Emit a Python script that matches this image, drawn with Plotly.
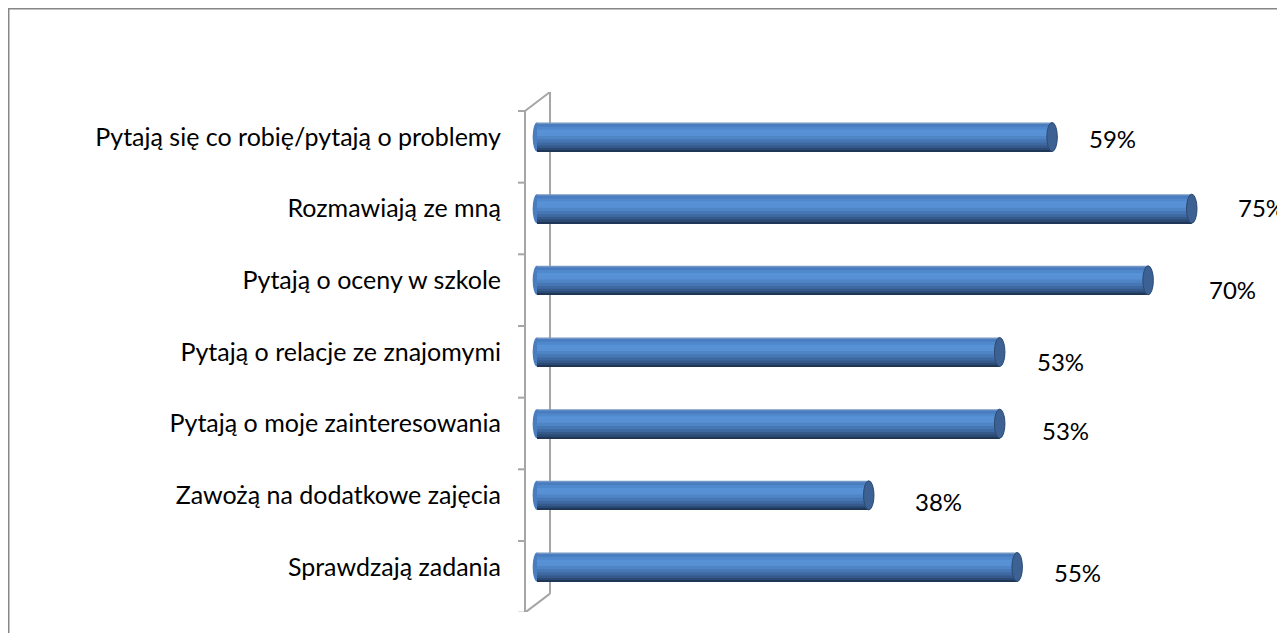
import plotly.graph_objects as go

# data
categories = [
    "Pytają się co robię/pytają o problemy",
    "Rozmawiają ze mną",
    "Pytają o oceny w szkole",
    "Pytają o relacje ze znajomymi",
    "Pytają o moje zainteresowania",
    "Zawożą na dodatkowe zajęcia",
    "Sprawdzają zadania",
]
values = [59, 75, 70, 53, 53, 38, 55]

# label nudges (px) to mimic the 3D layout of the original
label_dx = [60, 70, 84, 61, 66, 70, 60]
label_dy = [1, -1, 9, 9, 7, 6, 6]

# cylinder shading, top -> bottom
band_colors = ["#7497c4", "#4a7dc0", "#5088cc", "#5791d6", "#5890d4",
               "#4f84c5", "#4677b4", "#3d68a0", "#34598a", "#2a4a73", "#1f3656"]
band_w = [0.02, 0.04, 0.04, 0.045, 0.045, 0.045, 0.045, 0.04, 0.035, 0.035, 0.015]
W = sum(band_w)

FONT = "Lato, sans-serif"
AX = "#a6a6a6"

fig = go.Figure()
off = -W / 2
for col, bw in zip(band_colors, band_w):
    # each band runs to the bottom of the cylinder so no seams show
    fig.add_trace(go.Bar(
        x=values, y=categories, orientation="h",
        width=W / 2 - off, offset=off,
        marker=dict(color=col, line=dict(width=0)),
        showlegend=False, hoverinfo="skip",
    ))
    off += bw

shapes = []
# 3D wall: front line with ticks, back line, diagonals
yf0, yb0 = -0.363, -0.628
n = len(categories)
xf, xb, xt = -1.375, 1.49, -2.18
wall = dict(color=AX, width=2)
shapes.append(dict(type="line", xref="x", yref="y", x0=xf, x1=xf, y0=yf0, y1=yf0 + n,
                   line=wall, layer="below"))
shapes.append(dict(type="line", xref="x", yref="y", x0=xb, x1=xb, y0=yb0, y1=yb0 + n,
                   line=wall, layer="below"))
shapes.append(dict(type="line", xref="x", yref="y", x0=xf, x1=xb, y0=yf0, y1=yb0,
                   line=wall, layer="below"))
shapes.append(dict(type="line", xref="x", yref="y", x0=xf, x1=xb, y0=yf0 + n, y1=yb0 + n,
                   line=wall, layer="below"))
for k in range(n + 1):
    shapes.append(dict(type="line", xref="x", yref="y", x0=xt, x1=xf, y0=yf0 + k, y1=yf0 + k,
                       line=wall, layer="below"))

# rounded left ends and darker end caps
for i, v in enumerate(values):
    shapes.append(dict(type="circle", xref="x", yref="y", x0=-0.5, x1=0.5,
                       y0=i - W / 2, y1=i + W / 2,
                       fillcolor="#4a7dc0", line=dict(width=0), layer="below"))
    shapes.append(dict(type="circle", xref="x", yref="y", x0=v - 0.6, x1=v + 0.6,
                       y0=i - W / 2, y1=i + W / 2,
                       fillcolor="#3c6192", line=dict(color="#2a4a73", width=1)))

# outer chart border
shapes.append(dict(type="rect", xref="paper", yref="paper", x0=-0.6468, x1=1.02,
                   y0=-0.2, y1=1.1601, line=dict(color="#868686", width=1.5)))

annotations = []
for i, v in enumerate(values):
    annotations.append(dict(x=v, y=i, xref="x", yref="y", text=f"{v}%",
                            showarrow=False, xanchor="center", yanchor="middle",
                            xshift=label_dx[i], yshift=-label_dy[i],
                            font=dict(family=FONT, size=24, color="#000000")))

# the page body adds an 8px margin, so the figure is 8px smaller than the window
fig.update_layout(
    width=1277, height=625,
    barmode="overlay",
    paper_bgcolor="white", plot_bgcolor="white",
    margin=dict(l=502, r=0, t=84, b=21),
    shapes=shapes, annotations=annotations,
    showlegend=False,
    font=dict(family=FONT, size=24, color="#000000"),
)
fig.update_xaxes(range=[-3.093, 85.68], visible=False, showgrid=False, zeroline=False)
fig.update_yaxes(type="category", categoryorder="array", categoryarray=categories,
                 range=[6.628, -0.628], showgrid=False, zeroline=False, showline=False,
                 ticks="", ticklabelstandoff=8,
                 tickfont=dict(family=FONT, size=25, color="#000000"))

fig.write_html("out.html")
